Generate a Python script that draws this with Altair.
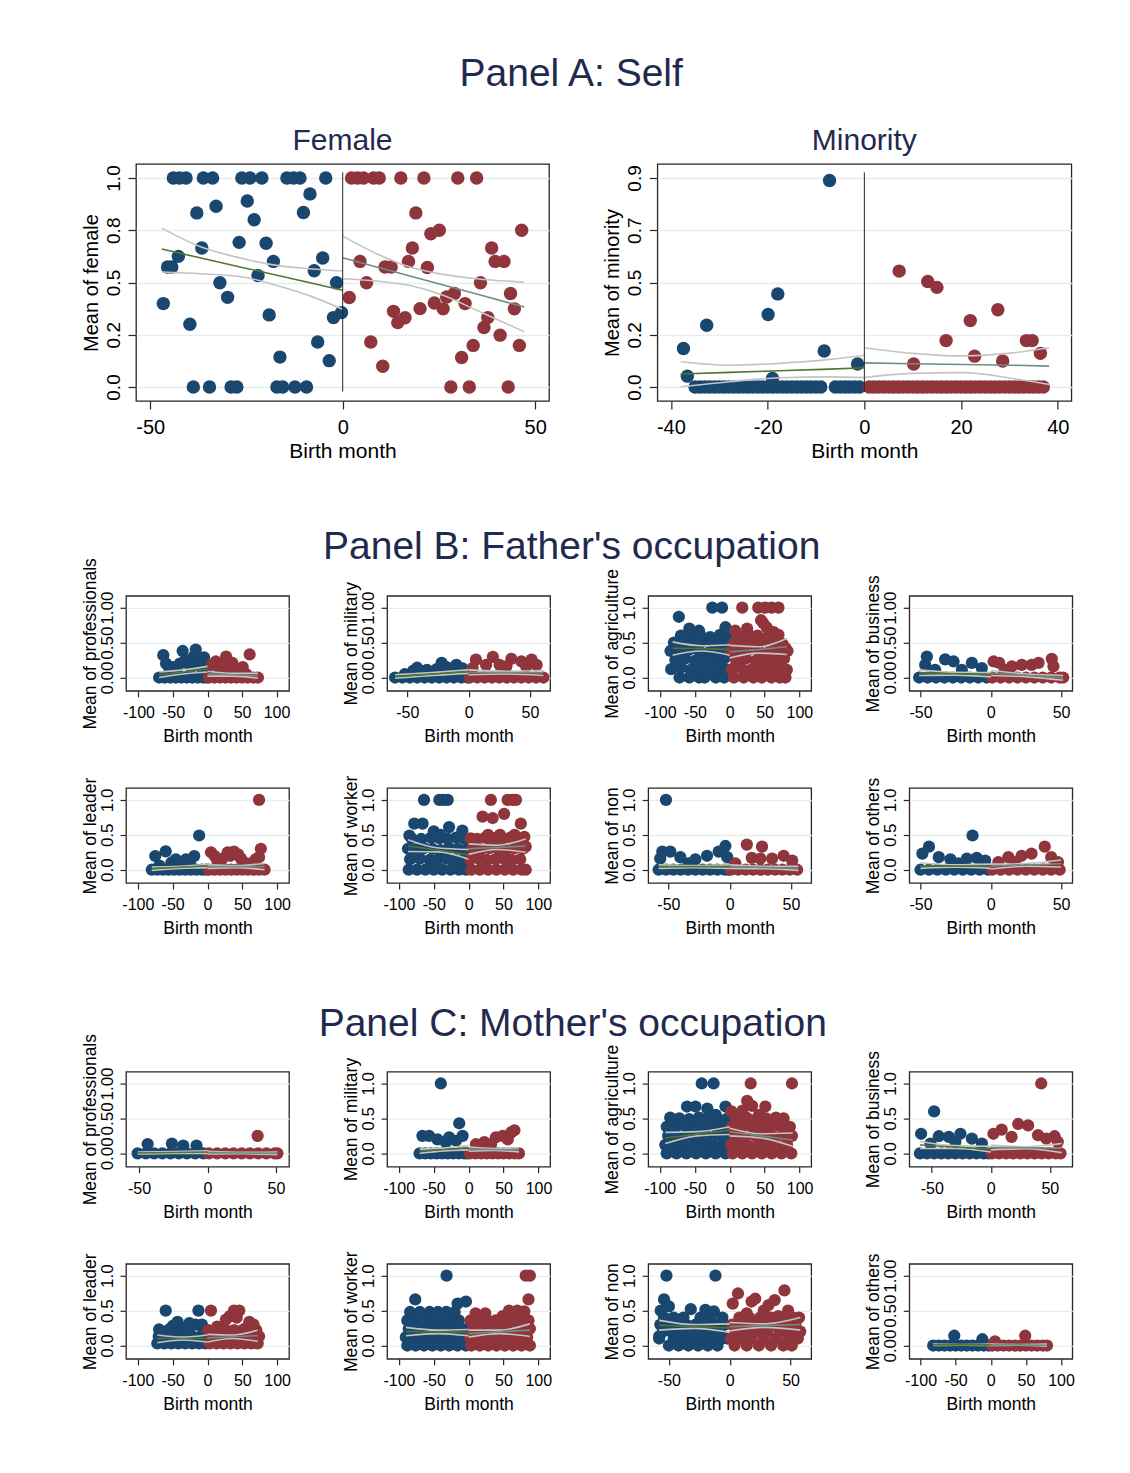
import altair as alt
import pandas as pd

FONT = "Liberation Sans"
NAVY = "#1a476f"
MAROON = "#90353b"
GREEN = "#55752f"
TEAL = "#6e8e84"
CI_COL = "#c4c4c4"
GRID = "#e6edf0"
TCOL = "#1f2a4e"
FRAME = "#262626"

# ---------------- Panel A: Self ----------------
fem_L = [(-44.0, 1), (-42.4, 1), (-40.7, 1), (-36.2, 1), (-33.8, 1), (-26.2, 1), (-24.1, 1), (-21.0, 1),
         (-14.5, 1), (-12.8, 1), (-11.1, 1), (-4.4, 1),
         (-38.8, 0), (-34.6, 0), (-29.0, 0), (-27.5, 0), (-17.1, 0), (-15.6, 0), (-12.4, 0), (-9.4, 0),
         (-46.6, 0.399), (-45.5, 0.574), (-44.4, 0.574), (-42.7, 0.625), (-39.7, 0.300), (-37.9, 0.833),
         (-36.6, 0.665), (-32.9, 0.865), (-31.9, 0.499), (-29.9, 0.429), (-26.9, 0.692), (-24.8, 0.890),
         (-23.0, 0.800), (-22.0, 0.533), (-19.9, 0.688), (-19.1, 0.345), (-18.0, 0.601), (-16.3, 0.143),
         (-10.2, 0.835), (-8.5, 0.924), (-7.4, 0.556), (-6.5, 0.215), (-5.2, 0.617), (-3.5, 0.126),
         (-2.4, 0.332), (-1.6, 0.499), (-0.3, 0.356)]
fem_R = [(2.3, 1), (3.9, 1), (5.4, 1), (8.0, 1), (9.5, 1), (15.1, 1), (21.1, 1), (29.9, 1), (34.8, 1),
         (28.1, 0), (32.9, 0), (43.0, 0),
         (1.7, 0.428), (4.5, 0.601), (6.2, 0.499), (7.3, 0.215), (10.4, 0.099), (11.0, 0.574), (12.6, 0.574),
         (13.2, 0.362), (14.3, 0.308), (16.2, 0.331), (17.1, 0.601), (18.1, 0.665), (19.0, 0.833),
         (20.1, 0.375), (22.0, 0.572), (22.9, 0.733), (25.1, 0.750), (23.8, 0.402), (26.1, 0.374),
         (27.0, 0.431), (29.0, 0.447), (30.9, 0.141), (31.8, 0.399), (33.9, 0.199), (35.8, 0.499),
         (36.7, 0.285), (37.7, 0.332), (38.7, 0.665), (39.6, 0.601), (40.9, 0.248), (41.9, 0.601),
         (43.6, 0.447), (44.6, 0.374), (45.9, 0.199), (46.5, 0.750)]
# (x, fit, lower CI, upper CI)
fem_fitL = [(-47.0, 0.660, 0.550, 0.760), (-37.1, 0.618, 0.542, 0.672), (-25.8, 0.571, 0.526, 0.614),
            (-17.1, 0.535, 0.486, 0.582), (-8.5, 0.499, 0.436, 0.566), (0.0, 0.463, 0.372, 0.555)]
fem_fitR = [(0.0, 0.618, 0.518, 0.722), (8.8, 0.574, 0.507, 0.638), (17.5, 0.531, 0.486, 0.574),
            (26.1, 0.488, 0.439, 0.539), (34.8, 0.445, 0.367, 0.518), (47.2, 0.383, 0.264, 0.502)]
fem_yticks = [0, 0.25, 0.5, 0.75, 1.0]
fem_ylabels = ["0.0", "0.2", "0.5", "0.8", "1.0"]

min_L = [(x, 0) for x in [-35, -34, -33, -32, -31, -30, -29, -28, -27, -26, -25, -24, -23, -22, -21, -20,
                          -19, -18, -17, -16, -15, -14, -13, -12, -11, -10, -9, -6, -5, -4, -3, -2, -1]] + \
        [(-37.4, 0.166), (-36.6, 0.047), (-32.6, 0.266), (-19.9, 0.312), (-17.9, 0.401), (-19.0, 0.037),
         (-8.3, 0.155), (-7.2, 0.889), (-1.4, 0.099)]
min_R = [(x, 0) for x in range(1, 38)] + \
        [(7.2, 0.499), (13.1, 0.454), (15.0, 0.429), (10.2, 0.099), (16.9, 0.200), (21.9, 0.286),
         (22.8, 0.133), (27.6, 0.333), (28.6, 0.112), (33.5, 0.200), (34.7, 0.200), (36.4, 0.145)]
min_fitL = [(-38.0, 0.056, 0.001, 0.109), (-27.9, 0.063, 0.023, 0.094), (-17.6, 0.070, 0.040, 0.102),
            (-7.2, 0.077, 0.044, 0.119), (0.0, 0.083, 0.041, 0.137)]
min_fitR = [(0.0, 0.104, 0.041, 0.169), (10.0, 0.100, 0.059, 0.145), (20.4, 0.097, 0.062, 0.134),
            (30.7, 0.094, 0.037, 0.147), (38.2, 0.090, 0.011, 0.169)]
min_yticks = [0, 0.225, 0.45, 0.675, 0.9]
min_ylabels = ["0.0", "0.2", "0.5", "0.7", "0.9"]

# ---------------- Panel B: Father's occupation ----------------
fa_prof_L = [(x, 0) for x in [-70, -62, -54, -46, -38, -30, -22, -14, -6, -1]] + \
    [(-64, 0.32), (-60, 0.2), (-55, 0.12), (-50, 0.15), (-45, 0.1), (-40, 0.2), (-36, 0.38), (-32, 0.25),
     (-28, 0.2), (-24, 0.15), (-20, 0.3), (-17, 0.4), (-13, 0.25), (-9, 0.15), (-5, 0.29), (-2, 0.1)]
fa_prof_R = [(x, 0) for x in [2, 10, 18, 26, 34, 42, 50, 58, 66, 73]] + \
    [(6, 0.18), (12, 0.23), (18, 0.12), (22, 0.2), (27, 0.3), (32, 0.15), (36, 0.21), (42, 0.1), (46, 0.12),
     (51, 0.15), (61, 0.33), (56, 0.05)]
fa_prof_fitL = [(-70, 0.04, 0.00, 0.08), (-35, 0.08, 0.05, 0.11), (0, 0.12, 0.08, 0.16)]
fa_prof_fitR = [(0, 0.055, 0.02, 0.09), (37, 0.04, 0.02, 0.06), (73, 0.025, -0.01, 0.06)]

fa_mil_L = [(x, 0) for x in [-60, -54, -48, -42, -36, -30, -24, -18, -12, -6, -1]] + \
    [(-52, 0.05), (-45, 0.1), (-42, 0.14), (-38, 0.08), (-34, 0.11), (-30, 0.06), (-26, 0.12), (-22, 0.21),
     (-18, 0.15), (-14, 0.1), (-10, 0.18), (-5, 0.13), (-2, 0.08)]
fa_mil_R = [(x, 0) for x in [1, 7, 13, 19, 25, 31, 37, 43, 49, 55, 61]] + \
    [(3.3, 0.135), (6, 0.256), (14.3, 0.18), (19.8, 0.295), (25.3, 0.18), (30.8, 0.16), (34.9, 0.266),
     (43.1, 0.23), (47, 0.16), (51.4, 0.256), (55.5, 0.18)]
fa_mil_fitL = [(-60, 0.015, -0.01, 0.04), (-30, 0.05, 0.03, 0.07), (0, 0.085, 0.06, 0.11)]
fa_mil_fitR = [(0, 0.075, 0.04, 0.11), (30, 0.072, 0.05, 0.09), (61, 0.07, 0.03, 0.10)]

fa_agri_L = [(-72, 0), (-58, 0), (-44, 0), (-36, 0), (-20, 0), (-8, 0),
             (-84, 0.12), (-70, 0.14), (-56, 0.11), (-42, 0.13), (-28, 0.12), (-14, 0.14), (-4, 0.11),
             (-78, 0.25), (-64, 0.27), (-50, 0.24), (-36, 0.26), (-22, 0.25), (-8, 0.27),
             (-85, 0.38), (-72, 0.37), (-58, 0.40), (-44, 0.38), (-30, 0.36), (-16, 0.39), (-3, 0.38),
             (-80, 0.50), (-66, 0.51), (-52, 0.49), (-38, 0.52), (-24, 0.50), (-10, 0.48),
             (-70, 0.60), (-56, 0.62), (-42, 0.60), (-28, 0.58), (-14, 0.61), (-4, 0.57),
             (-73, 0.87), (-58, 0.70), (-44, 0.67), (-25, 1.0), (-11, 1.0), (-6, 0.72)]
fa_agri_R = [(6, 0), (20, 0), (34, 0), (46, 0), (60, 0), (72, 0), (80, 0),
             (3, 0.12), (16, 0.14), (30, 0.11), (44, 0.13), (58, 0.12), (70, 0.14), (82, 0.11),
             (9, 0.25), (23, 0.27), (37, 0.24), (51, 0.26), (65, 0.25), (78, 0.27),
             (2, 0.38), (14, 0.37), (28, 0.40), (42, 0.38), (56, 0.36), (68, 0.39), (83, 0.38),
             (7, 0.50), (21, 0.51), (35, 0.49), (49, 0.52), (63, 0.50), (76, 0.48),
             (12, 0.60), (27, 0.62), (40, 0.60), (54, 0.58), (70, 0.61),
             (8, 0.67), (25, 0.70), (45, 0.82), (48, 0.78), (53, 0.72), (63, 0.65), (80, 0.42),
             (18, 1.0), (41, 1.0), (51, 1.0), (60, 1.0), (70, 1.0)]
fa_agri_fitL = [(-82, 0.42, 0.32, 0.51), (-41, 0.415, 0.38, 0.455), (0, 0.40, 0.32, 0.47)]
fa_agri_fitR = [(0, 0.37, 0.28, 0.46), (41, 0.40, 0.35, 0.44), (82, 0.44, 0.33, 0.56)]

fa_bus_L = [(x, 0) for x in [-51, -45, -39, -33, -27, -21, -15, -9, -3]] + \
    [(-46.7, 0.18), (-45.5, 0.30), (-39.6, 0.11), (-32.5, 0.26), (-26.5, 0.23), (-20.6, 0.11),
     (-13.5, 0.21), (-6.4, 0.135)]
fa_bus_R = [(x, 0) for x in [1, 7, 13, 19, 25, 31, 37, 43, 49, 51.5]] + \
    [(2, 0.23), (6, 0.21), (10, 0.11), (15, 0.16), (22, 0.18), (29, 0.18), (34, 0.21), (43.4, 0.266),
     (44.6, 0.16)]
fa_bus_fitL = [(-51, 0.07, 0.03, 0.11), (-25, 0.055, 0.035, 0.075), (0, 0.04, 0.01, 0.07)]
fa_bus_fitR = [(0, 0.065, 0.03, 0.10), (26, 0.03, 0.01, 0.05), (51.5, -0.005, -0.04, 0.03)]

fa_lead_L = [(x, 0) for x in [-80, -72, -64, -56, -48, -40, -32, -24, -16, -8, -2]] + \
    [(-75, 0.196), (-69, 0.06), (-60, 0.263), (-52, 0.1), (-45.5, 0.148), (-40, 0.09), (-31, 0.148),
     (-25, 0.12), (-19, 0.196), (-12, 0.49)]
fa_lead_R = [(x, 0) for x in [2, 10, 18, 26, 34, 42, 50, 58, 66, 74, 82]] + \
    [(5, 0.25), (10, 0.2), (14, 0.13), (21.5, 0.16), (29, 0.25), (33, 0.2), (38, 0.26), (44, 0.22),
     (48, 0.16), (57, 0.09), (69, 0.148), (74, 0.18), (76.6, 0.30), (74, 1.0)]
fa_lead_fitL = [(-80, 0.015, -0.01, 0.04), (-40, 0.035, 0.02, 0.05), (0, 0.053, 0.03, 0.075)]
fa_lead_fitR = [(0, 0.045, 0.02, 0.07), (41, 0.045, 0.03, 0.06), (82, 0.045, 0.0, 0.09)]

fa_work_L = [(-86, 0), (-74, 0), (-62, 0), (-50, 0), (-38, 0), (-26, 0), (-14, 0), (-4, 0),
             (-84, 0.15), (-70, 0.16), (-56, 0.14), (-44, 0.15), (-32, 0.16), (-20, 0.14), (-8, 0.15),
             (-87, 0.30), (-76, 0.29), (-64, 0.31), (-52, 0.30), (-40, 0.28), (-28, 0.31), (-16, 0.30), (-3, 0.29),
             (-82, 0.45), (-68, 0.44), (-54, 0.46), (-42, 0.45), (-30, 0.44), (-18, 0.46), (-6, 0.44),
             (-85, 0.49), (-78, 0.66), (-66, 0.66), (-50, 0.55), (-40, 0.50), (-28, 0.61), (-9, 0.56),
             (-64, 1.0), (-42, 1.0), (-36, 1.0), (-30, 1.0)]
fa_work_R = [(4, 0), (16, 0), (28, 0), (40, 0), (52, 0), (64, 0), (76, 0), (82, 0),
             (2, 0.15), (14, 0.16), (26, 0.14), (38, 0.15), (50, 0.16), (62, 0.14), (74, 0.15),
             (6, 0.30), (18, 0.29), (30, 0.31), (42, 0.30), (54, 0.28), (66, 0.31), (78, 0.30), (82, 0.33),
             (3, 0.45), (12, 0.44), (24, 0.46), (36, 0.45), (48, 0.44), (60, 0.46), (72, 0.44), (80, 0.47),
             (28, 0.50), (45, 0.50), (66, 0.50), (20, 0.76), (34.5, 0.74), (51, 0.80), (75, 0.66),
             (32, 1.0), (56, 1.0), (63, 1.0), (68, 1.0)]
fa_work_fitL = [(-87, 0.34, 0.26, 0.43), (-43, 0.28, 0.255, 0.31), (0, 0.215, 0.15, 0.29)]
fa_work_fitR = [(0, 0.30, 0.22, 0.37), (41, 0.32, 0.29, 0.35), (82, 0.34, 0.25, 0.44)]

fa_non_L = [(x, 0) for x in [-58, -52, -46, -40, -34, -28, -22, -16, -10, -4, -1]] + \
    [(-56.7, 0.16), (-55, 0.26), (-52, 1.0), (-48.5, 0.26), (-40.3, 0.18), (-33.5, 0.09), (-28, 0.15),
     (-18.5, 0.2), (-9, 0.26), (-3.5, 0.34), (-2, 0.18)]
fa_non_R = [(x, 0) for x in [1, 7, 13, 19, 25, 31, 37, 43, 49, 55]] + \
    [(4.6, 0.09), (14, 0.36), (18, 0.17), (25, 0.16), (26.4, 0.33), (34.6, 0.16), (44, 0.2), (51, 0.13)]
fa_non_fitL = [(-58, 0.045, 0.02, 0.07), (-29, 0.045, 0.03, 0.06), (0, 0.045, 0.02, 0.07)]
fa_non_fitR = [(0, 0.045, 0.02, 0.07), (28, 0.033, 0.015, 0.05), (56, 0.02, -0.01, 0.05)]

fa_oth_L = [(x, 0) for x in [-50, -44, -38, -32, -26, -20, -14, -8, -2]] + \
    [(-48.7, 0.23), (-44, 0.33), (-37, 0.18), (-28.7, 0.15), (-23, 0.09), (-17, 0.16), (-13, 0.49),
     (-10, 0.17), (-4, 0.13)]
fa_oth_R = [(x, 0) for x in [1, 7, 13, 19, 25, 31, 37, 43, 49]] + \
    [(5.4, 0.11), (12.5, 0.18), (17, 0.11), (21.9, 0.2), (29, 0.23), (38.4, 0.33), (43, 0.18), (47.8, 0.11)]
fa_oth_fitL = [(-50, 0.055, 0.02, 0.10), (-25, 0.052, 0.035, 0.07), (0, 0.05, 0.02, 0.08)]
fa_oth_fitR = [(0, 0.05, 0.01, 0.08), (25, 0.068, 0.05, 0.09), (50, 0.085, 0.04, 0.14)]

# ---------------- Panel C: Mother's occupation ----------------
mo_prof_L = [(x, 0) for x in [-51, -45, -39, -33, -27, -21, -15, -9, -3]] + \
    [(-43.7, 0.133), (-26, 0.14), (-17.7, 0.11), (-8, 0.11)]
mo_prof_R = [(x, 0) for x in [1, 7, 13, 19, 25, 31, 37, 43, 49, 51]] + [(36.6, 0.25)]
mo_prof_fitL = [(-51, 0.005, -0.01, 0.02), (-25, 0.012, 0.0, 0.025), (0, 0.02, 0.0, 0.035)]
mo_prof_fitR = [(0, 0.01, -0.01, 0.03), (25, 0.005, -0.005, 0.015), (51, 0.0, -0.02, 0.02)]

mo_mil_L = [(x, 0) for x in [-70, -62, -54, -46, -38, -30, -22, -14, -6, -2]] + \
    [(-66, 0.25), (-56.5, 0.25), (-44.5, 0.2), (-39.7, 1.0), (-32.5, 0.16), (-27.8, 0.23), (-18, 0.18),
     (-13.4, 0.43), (-8.6, 0.25)]
mo_mil_R = [(x, 0) for x in [2, 10, 18, 26, 34, 42, 50, 58, 66, 72]] + \
    [(10.5, 0.13), (22.5, 0.16), (32, 0.13), (39, 0.23), (48.8, 0.25), (56, 0.2), (61, 0.30), (65.5, 0.33)]
mo_mil_fitL = [(-70, 0.03, 0.0, 0.06), (-35, 0.055, 0.035, 0.075), (0, 0.08, 0.05, 0.11)]
mo_mil_fitR = [(0, 0.06, 0.03, 0.09), (36, 0.055, 0.04, 0.07), (72, 0.05, 0.02, 0.08)]

mo_agri_L = [(-90, 0), (-76, 0), (-62, 0), (-48, 0), (-34, 0), (-20, 0), (-6, 0),
             (-92, 0.12), (-80, 0.13), (-66, 0.11), (-52, 0.12), (-38, 0.13), (-24, 0.11), (-10, 0.12),
             (-88, 0.25), (-74, 0.24), (-60, 0.26), (-46, 0.25), (-32, 0.24), (-18, 0.26), (-4, 0.25),
             (-90, 0.38), (-78, 0.37), (-64, 0.39), (-50, 0.38), (-36, 0.37), (-22, 0.39), (-8, 0.38),
             (-85, 0.51), (-72, 0.50), (-58, 0.49), (-44, 0.51), (-30, 0.50), (-16, 0.49), (-3, 0.50),
             (-61, 0.67), (-49, 0.67), (-32, 0.64), (-20, 0.55), (-6, 0.67), (-40, 1.0), (-23, 1.0)]
mo_agri_R = [(4, 0), (18, 0), (32, 0), (46, 0), (60, 0), (74, 0), (88, 0),
             (2, 0.12), (12, 0.13), (26, 0.11), (40, 0.12), (54, 0.13), (68, 0.11), (82, 0.12),
             (7, 0.25), (21, 0.24), (35, 0.26), (49, 0.25), (63, 0.24), (77, 0.26), (89, 0.25),
             (3, 0.38), (16, 0.37), (30, 0.39), (44, 0.38), (58, 0.37), (72, 0.39), (86, 0.38),
             (9, 0.50), (24, 0.51), (38, 0.49), (52, 0.50), (66, 0.51), (77, 0.50),
             (2.5, 0.60), (18, 0.61), (25, 0.75), (32, 0.68), (42, 0.55), (51, 0.67), (84, 0.33),
             (30, 1.0), (89, 1.0)]
mo_agri_fitL = [(-92, 0.22, 0.14, 0.30), (-46, 0.275, 0.25, 0.31), (0, 0.33, 0.27, 0.38)]
mo_agri_fitR = [(0, 0.31, 0.25, 0.36), (45, 0.25, 0.22, 0.28), (90, 0.19, 0.10, 0.29)]

mo_bus_L = [(x, 0) for x in [-60, -54, -48, -42, -36, -30, -24, -18, -12, -6, -2]] + \
    [(-59, 0.28), (-51, 0.14), (-48, 0.60), (-44, 0.245), (-35.5, 0.235), (-30, 0.165), (-25.7, 0.28),
     (-16, 0.21), (-7.5, 0.14)]
mo_bus_R = [(x, 0) for x in [1, 7, 13, 19, 25, 31, 37, 43, 49, 55, 59]] + \
    [(2.2, 0.28), (9.2, 0.34), (17.6, 0.235), (23.2, 0.42), (31.6, 0.40), (40, 0.26), (42.7, 1.0),
     (47, 0.21), (54, 0.245), (56.7, 0.165)]
mo_bus_fitL = [(-60, 0.12, 0.07, 0.17), (-30, 0.09, 0.07, 0.11), (0, 0.06, 0.02, 0.10)]
mo_bus_fitR = [(0, 0.085, 0.05, 0.12), (30, 0.08, 0.065, 0.095), (60, 0.075, 0.01, 0.14)]

mo_lead_L = [(-72, 0.03), (-62, 0.03), (-52, 0.03), (-42, 0.03), (-32, 0.03), (-22, 0.03), (-12, 0.03), (-3, 0.03),
             (-70, 0.13), (-58, 0.13), (-46, 0.13), (-34, 0.13), (-22, 0.13), (-10, 0.13),
             (-69.5, 0.23), (-64, 0.2), (-55, 0.23), (-45, 0.2), (-36, 0.25), (-27, 0.2), (-17, 0.30), (-6, 0.2),
             (-60, 0.5), (-13, 0.5), (-43, 0.34), (-26, 0.32), (-50, 0.28), (-8, 0.3)]
mo_lead_R = [(3, 0.03), (13, 0.03), (23, 0.03), (33, 0.03), (43, 0.03), (53, 0.03), (63, 0.03), (72, 0.03),
             (6, 0.13), (18, 0.13), (30, 0.13), (42, 0.13), (54, 0.13), (66, 0.13), (74, 0.13),
             (1, 0.22), (14, 0.27), (26, 0.22), (38, 0.22), (50, 0.22), (55, 0.25), (62, 0.22), (70, 0.22),
             (5, 0.5), (38, 0.5), (45.6, 0.5), (26.4, 0.37), (32, 0.42), (42, 0.4), (60, 0.34), (66, 0.3)]
mo_lead_fitL = [(-72, 0.10, 0.04, 0.15), (-36, 0.10, 0.08, 0.12), (0, 0.10, 0.05, 0.15)]
mo_lead_fitR = [(0, 0.11, 0.05, 0.16), (36, 0.125, 0.10, 0.15), (72, 0.14, 0.06, 0.22)]

mo_work_L = [(-88, 0), (-76, 0), (-64, 0), (-52, 0), (-40, 0), (-28, 0), (-16, 0), (-4, 0),
             (-90, 0.12), (-78, 0.12), (-66, 0.12), (-54, 0.12), (-42, 0.12), (-30, 0.12), (-18, 0.12), (-6, 0.12),
             (-86, 0.24), (-72, 0.24), (-60, 0.24), (-48, 0.24), (-36, 0.24), (-24, 0.24), (-12, 0.24), (-2, 0.24),
             (-88, 0.36), (-74, 0.36), (-62, 0.36), (-50, 0.36), (-38, 0.36), (-26, 0.36), (-14, 0.36),
             (-84, 0.48), (-70, 0.48), (-56, 0.48), (-44, 0.48), (-32, 0.48), (-20, 0.48),
             (-31.6, 1.0), (-76.6, 0.66), (-15.8, 0.60), (-3.8, 0.63)]
mo_work_R = [(4, 0), (16, 0), (28, 0), (40, 0), (52, 0), (64, 0), (76, 0), (88, 0),
             (2, 0.12), (12, 0.12), (24, 0.12), (36, 0.12), (48, 0.12), (60, 0.12), (72, 0.12), (84, 0.12),
             (7, 0.24), (20, 0.24), (32, 0.24), (44, 0.24), (56, 0.24), (68, 0.24), (80, 0.24), (88, 0.24),
             (3, 0.36), (15, 0.36), (27, 0.36), (39, 0.36), (51, 0.36), (63, 0.36), (75, 0.36), (86, 0.36),
             (10, 0.46), (24, 0.46), (49, 0.42), (58, 0.5), (70, 0.5), (80, 0.49),
             (82, 1.0), (88, 1.0), (86, 0.66)]
mo_work_fitL = [(-90, 0.20, 0.14, 0.26), (-45, 0.195, 0.17, 0.22), (0, 0.19, 0.14, 0.23)]
mo_work_fitR = [(0, 0.17, 0.12, 0.22), (44, 0.195, 0.17, 0.22), (88, 0.22, 0.13, 0.31)]

mo_non_L = [(-50, 0), (-42, 0), (-34, 0), (-26, 0), (-18, 0), (-10, 0),
            (-58, 0.1), (-46, 0.1), (-38, 0.1), (-30, 0.1), (-22, 0.1), (-14, 0.1), (-6, 0.1), (-2, 0.1),
            (-55, 0.2), (-48, 0.2), (-40, 0.2), (-32, 0.2), (-24, 0.2), (-16, 0.2), (-8, 0.2),
            (-57, 0.3), (-50, 0.3), (-44, 0.3), (-36, 0.3), (-28, 0.3), (-20, 0.3), (-12, 0.3), (-4, 0.3),
            (-54, 0.4), (-46, 0.4), (-38, 0.4), (-24, 0.4), (-16, 0.4), (-6, 0.4),
            (-52, 1.0), (-11.7, 1.0), (-54, 0.66), (-56.7, 0.5), (-50, 0.56), (-32, 0.52), (-20, 0.51),
            (-13, 0.49), (-58, 0.13)]
mo_non_R = [(4, 0), (14, 0), (24, 0), (34, 0), (44, 0), (51, 0),
            (1, 0.1), (9, 0.1), (18, 0.1), (28, 0.1), (38, 0.1), (48, 0.1), (56, 0.1),
            (5, 0.2), (13, 0.2), (22, 0.2), (31, 0.2), (41, 0.2), (50, 0.2), (58, 0.2),
            (2, 0.3), (10, 0.3), (19, 0.3), (27, 0.3), (36, 0.3), (45, 0.3), (54, 0.3),
            (8, 0.4), (16, 0.4), (25, 0.4), (34, 0.4), (43, 0.4), (52, 0.4), (57, 0.4),
            (6.8, 0.745), (2.5, 0.6), (18, 0.63), (21, 0.67), (37, 0.65), (45, 0.79), (14, 0.46), (32, 0.58),
            (40, 0.42), (54, 0.37), (28, 0.5), (48, 0.5)]
mo_non_fitL = [(-58, 0.29, 0.22, 0.36), (-29, 0.27, 0.245, 0.30), (0, 0.25, 0.19, 0.31)]
mo_non_fitR = [(0, 0.27, 0.21, 0.33), (29, 0.285, 0.26, 0.31), (58, 0.30, 0.22, 0.40)]

mo_oth_L = [(x, 0) for x in [-82, -74, -66, -58, -50, -42, -34, -26, -18, -10, -3]] + [(-52, 0.14), (-12, 0.09)]
mo_oth_R = [(x, 0) for x in [2, 10, 18, 26, 34, 42, 50, 58, 66, 74, 80]] + [(6, 0.06), (49, 0.14)]
mo_oth_fitL = [(-82, 0.01, 0.0, 0.02), (-41, 0.01, 0.005, 0.015), (0, 0.01, 0.0, 0.02)]
mo_oth_fitR = [(0, 0.01, 0.0, 0.02), (40, 0.01, 0.005, 0.015), (80, 0.005, -0.01, 0.02)]

TICKS100 = [-100, -50, 0, 50, 100]
TICKS50 = [-50, 0, 50]
SMALL_YDOM = [-0.19, 1.17]
SMALL_YTICKS = [0, 0.5, 1.0]


def pts_df(L, R):
    rows = [(x, y, "L") for x, y in L] + [(x, y, "R") for x, y in R]
    return pd.DataFrame(rows, columns=["x", "y", "side"])


def fit_df(fL, fR):
    rows = []
    for side, f in (("L", fL), ("R", fR)):
        for x, fit, lo, hi in f:
            rows.append((x, fit, side + "fit", "fit"))
            rows.append((x, lo, side + "lo", "ci"))
            rows.append((x, hi, side + "hi", "ci"))
    return pd.DataFrame(rows, columns=["x", "y", "series", "kind"])


def lab_expr(vals, labs):
    expr = "''"
    for v, l in reversed(list(zip(vals, labs))):
        expr = f"abs(datum.value - {v}) < 1e-6 ? '{l}' : ({expr})"
    return expr


def panel(L, R, fL, fR, xdom, xticks, ydom, yticks, yexpr, ytitle, big, w=163, h=95, vline=None, title=None):
    xaxis = alt.Axis(values=xticks, labelExpr="datum.value + ''", title="Birth month", grid=False, domain=False,
                     tickSize=8 if big else 6, tickColor=FRAME, tickWidth=1.2,
                     labelFont=FONT, labelFontSize=20 if big else 16, labelColor="#000",
                     labelPadding=8 if big else 7.5, labelBaseline="top", labelAlign="center", labelAngle=0,
                     labelOverlap=False, labelFlush=False,
                     titleFont=FONT, titleFontSize=21 if big else 17.5, titleFontWeight="normal",
                     titleColor="#000", titlePadding=3.3 if big else 7.4, titleBaseline="top")
    ext = 32 if big else 27
    yaxis = alt.Axis(values=yticks, labelExpr=yexpr, title=ytitle, grid=True, gridColor=GRID, gridWidth=1.3,
                     domain=False, tickSize=8 if big else 6, tickColor=FRAME, tickWidth=1.2,
                     labelFont=FONT, labelFontSize=19 if big else 17, labelColor="#000",
                     labelPadding=9 if big else 8, labelAngle=270, labelAlign="center",
                     labelBaseline="alphabetic", labelOverlap=False, labelFlush=False,
                     titleFont=FONT, titleFontSize=20 if big else 17.5, titleFontWeight="normal",
                     titleColor="#000", titlePadding=7 if big else 3.9, titleBaseline="alphabetic",
                     minExtent=ext, maxExtent=ext)
    xs = alt.Scale(domain=xdom, nice=False, zero=False)
    ys = alt.Scale(domain=ydom, nice=False, zero=False)
    X = alt.X("x:Q", scale=xs, axis=xaxis)
    Y = alt.Y("y:Q", scale=ys, axis=yaxis)
    pdf = pts_df(L, R)
    fdf = fit_df(fL, fR)
    size = 180 if big else 150
    pts = alt.Chart(pdf).mark_circle(size=size, opacity=1).encode(
        x=X, y=Y,
        color=alt.Color("side:N", scale=alt.Scale(domain=["L", "R"], range=[NAVY, MAROON]), legend=None))
    ci = alt.Chart(fdf).transform_filter("datum.kind == 'ci'").mark_line(
        color=CI_COL, strokeWidth=1.6, interpolate="monotone").encode(x=X, y=Y, detail="series:N")
    fitl = alt.Chart(fdf).transform_filter("datum.series == 'Lfit'").mark_line(
        color=GREEN, strokeWidth=1.6).encode(x=X, y=Y)
    fitr = alt.Chart(fdf).transform_filter("datum.series == 'Rfit'").mark_line(
        color=TEAL, strokeWidth=1.6).encode(x=X, y=Y)
    layers = [pts, ci, fitl, fitr]
    if vline is not None:
        vdf = pd.DataFrame([{"x": 0, "y": vline[0], "y2": vline[1]}])
        layers.append(alt.Chart(vdf).mark_rule(color=FRAME, strokeWidth=1).encode(x=X, y=Y, y2="y2:Q"))
    ch = alt.layer(*layers).properties(width=w, height=h)
    if title:
        ch = ch.properties(title=alt.TitleParams(title, font=FONT, fontSize=30, fontWeight="normal", color=TCOL,
                                                 anchor="middle", frame="group", offset=-15.5,
                                                 baseline="alphabetic"))
    return ch


F2 = "format(datum.value, '.2f')"
F1 = "format(datum.value, '.1f')"

female = panel(fem_L, fem_R, fem_fitL, fem_fitR, [-53.7, 53.6], TICKS50, [-0.067, 1.067], fem_yticks,
               lab_expr(fem_yticks, fem_ylabels), "Mean of female", True, w=413, h=237,
               vline=(1.027, -0.022), title="Female")
minority = panel(min_L, min_R, min_fitL, min_fitR, [-42.8, 42.8], [-40, -20, 0, 20, 40], [-0.060, 0.960],
                 min_yticks, lab_expr(min_yticks, min_ylabels), "Mean of minority", True, w=414, h=237,
                 vline=(0.924, -0.02), title="Minority")


def sp(L, R, fL, fR, xr, xticks, fmt, name):
    return panel(L, R, fL, fR, [-xr, xr], xticks, SMALL_YDOM, SMALL_YTICKS, fmt, "Mean of " + name, False)


fa = [
    sp(fa_prof_L, fa_prof_R, fa_prof_fitL, fa_prof_fitR, 118, TICKS100, F2, "professionals"),
    sp(fa_mil_L, fa_mil_R, fa_mil_fitL, fa_mil_fitR, 66.5, TICKS50, F2, "military"),
    sp(fa_agri_L, fa_agri_R, fa_agri_fitL, fa_agri_fitR, 117, TICKS100, F1, "agriculture"),
    sp(fa_bus_L, fa_bus_R, fa_bus_fitL, fa_bus_fitR, 58, TICKS50, F2, "business"),
    sp(fa_lead_L, fa_lead_R, fa_lead_fitL, fa_lead_fitR, 117, TICKS100, F1, "leader"),
    sp(fa_work_L, fa_work_R, fa_work_fitL, fa_work_fitR, 117, TICKS100, F1, "worker"),
    sp(fa_non_L, fa_non_R, fa_non_fitL, fa_non_fitR, 66.5, TICKS50, F1, "non"),
    sp(fa_oth_L, fa_oth_R, fa_oth_fitL, fa_oth_fitR, 58, TICKS50, F1, "others"),
]
mo = [
    sp(mo_prof_L, mo_prof_R, mo_prof_fitL, mo_prof_fitR, 59.5, TICKS50, F2, "professionals"),
    sp(mo_mil_L, mo_mil_R, mo_mil_fitL, mo_mil_fitR, 116.5, TICKS100, F1, "military"),
    sp(mo_agri_L, mo_agri_R, mo_agri_fitL, mo_agri_fitR, 116.5, TICKS100, F1, "agriculture"),
    sp(mo_bus_L, mo_bus_R, mo_bus_fitL, mo_bus_fitR, 69, TICKS50, F1, "business"),
    sp(mo_lead_L, mo_lead_R, mo_lead_fitL, mo_lead_fitR, 117, TICKS100, F1, "leader"),
    sp(mo_work_L, mo_work_R, mo_work_fitL, mo_work_fitR, 117, TICKS100, F1, "worker"),
    sp(mo_non_L, mo_non_R, mo_non_fitL, mo_non_fitR, 67, TICKS50, F1, "non"),
    sp(mo_oth_L, mo_oth_R, mo_oth_fitL, mo_oth_fitR, 116, TICKS100, F2, "others"),
]


def sec_title(text, offset):
    return alt.TitleParams(text, font=FONT, fontSize=39, fontWeight="normal", color=TCOL, anchor="middle",
                           frame="bounds", offset=offset, baseline="alphabetic", dx=-5)


def spacer():
    # invisible 1px cell so that each row is placed by its left bounds
    return alt.Chart(pd.DataFrame({"v": [0]})).mark_point(opacity=0).properties(
        width=1, height=1, view=alt.ViewBackground(strokeOpacity=0, strokeWidth=0))


rowA = alt.hconcat(female, minority, spacing=51.35, title=sec_title("Panel A: Self", 0.3))
blockB = alt.concat(*fa, columns=4, spacing={"row": 27.2, "column": 49.1},
                    title=sec_title("Panel B: Father's occupation", -41.2))
blockC = alt.concat(*mo, columns=4, spacing={"row": 27.2, "column": 49.1},
                    title=sec_title("Panel C: Mother's occupation", -42.2))

rowA_w = alt.hconcat(spacer(), rowA, spacing=0)
blockB_w = alt.hconcat(spacer(), blockB, spacing=0)
blockC_w = alt.hconcat(spacer(), blockC, spacing=0)

bc = alt.concat(blockB_w, blockC_w, columns=1, align="none", spacing=65.8)

chart = alt.concat(rowA_w, bc, columns=1, align="none", spacing=65.8).properties(
    padding={"left": 73, "top": 54, "right": 10, "bottom": 10},
    background="white",
).configure_view(stroke=FRAME, strokeWidth=1.3).configure_title(font=FONT, fontWeight="normal", color=TCOL)

chart.save("out.html", embed_options={"renderer": "svg", "actions": False})
